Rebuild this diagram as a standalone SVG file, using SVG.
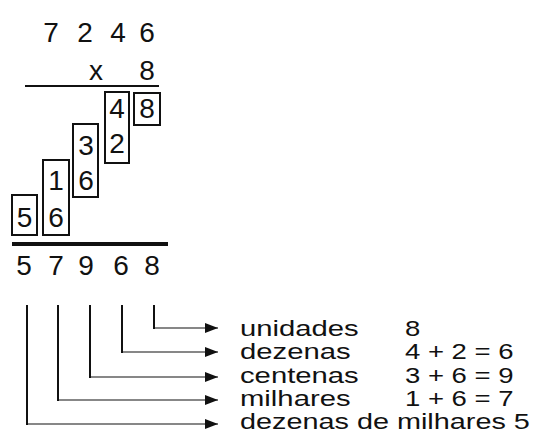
<svg xmlns="http://www.w3.org/2000/svg" width="540" height="432" viewBox="0 0 540 432">
<style>
.d{font-family:"Liberation Sans",Arial,sans-serif;font-size:28px;fill:#111;text-anchor:middle}
.b{fill:none;stroke:#111;stroke-width:2}
.lbl{font-family:"Liberation Sans",Arial,sans-serif;font-size:22px;fill:#111}
.v{stroke:#111;stroke-width:2;fill:none}
.h{stroke:#111;stroke-width:1.2;fill:none}
</style>
<defs>
<marker id="ah" viewBox="0 0 13 10" refX="13" refY="5" markerWidth="13" markerHeight="10" markerUnits="userSpaceOnUse" orient="auto">
<path d="M0,0 L13,5 L0,10 Z" fill="#111"/>
</marker>
</defs>
<rect width="540" height="432" fill="#fff"/>
<g id="multiplicand">
<text class="d" x="51" y="42">7</text>
<text class="d" x="85" y="42">2</text>
<text class="d" x="118" y="42">4</text>
<text class="d" x="147" y="42">6</text>
</g>
<g id="multiplier">
<text class="d" x="96" y="80">x</text>
<text class="d" x="147" y="80">8</text>
<line x1="25" y1="86" x2="159" y2="86" stroke="#111" stroke-width="2"/>
</g>
<g id="col-unidades">
<rect class="b" x="134" y="93" width="26" height="32"/>
<text class="d" x="147" y="118">8</text>
</g>
<g id="col-dezenas">
<rect class="b" x="105" y="92" width="24" height="71"/>
<text class="d" x="117" y="118">4</text>
<text class="d" x="117" y="153">2</text>
</g>
<g id="col-centenas">
<rect class="b" x="73" y="124" width="25" height="73"/>
<text class="d" x="86" y="155">3</text>
<text class="d" x="86" y="190">6</text>
</g>
<g id="col-milhares">
<rect class="b" x="43" y="160" width="26" height="75"/>
<text class="d" x="56" y="190">1</text>
<text class="d" x="56" y="227">6</text>
</g>
<g id="col-dezenas-milhares">
<rect class="b" x="12" y="195" width="25" height="40"/>
<text class="d" x="24.5" y="227">5</text>
</g>
<g id="result">
<line x1="12" y1="244" x2="168" y2="244" stroke="#111" stroke-width="4"/>
<text class="d" x="24" y="275">5</text>
<text class="d" x="56" y="275">7</text>
<text class="d" x="86" y="275">9</text>
<text class="d" x="121" y="275">6</text>
<text class="d" x="152" y="275">8</text>
</g>
<g id="connectors">
<path class="v" d="M154,305 V329"/>
<path class="h" d="M154,328 H218" marker-end="url(#ah)"/>
<path class="v" d="M122,305 V353"/>
<path class="h" d="M122,352 H218" marker-end="url(#ah)"/>
<path class="v" d="M90,305 V378"/>
<path class="h" d="M90,377 H218" marker-end="url(#ah)"/>
<path class="v" d="M58,305 V401"/>
<path class="h" d="M58,400 H218" marker-end="url(#ah)"/>
<path class="v" d="M27,305 V425"/>
<path class="h" d="M27,424 H218" marker-end="url(#ah)"/>
</g>
<g id="labels">
<text class="lbl" transform="translate(240,336) scale(1.33,1)">unidades</text>
<text class="lbl" transform="translate(240,359) scale(1.33,1)">dezenas</text>
<text class="lbl" transform="translate(240,383) scale(1.33,1)">centenas</text>
<text class="lbl" transform="translate(240,406) scale(1.33,1)">milhares</text>
<text class="lbl" transform="translate(240,429) scale(1.31,1)">dezenas de milhares 5</text>
<text class="lbl" transform="translate(405,336) scale(1.25,1)">8</text>
<text class="lbl" transform="translate(405,359) scale(1.25,1)">4 + 2 = 6</text>
<text class="lbl" transform="translate(405,383) scale(1.25,1)">3 + 6 = 9</text>
<text class="lbl" transform="translate(405,406) scale(1.25,1)">1 + 6 = 7</text>
</g>
</svg>
